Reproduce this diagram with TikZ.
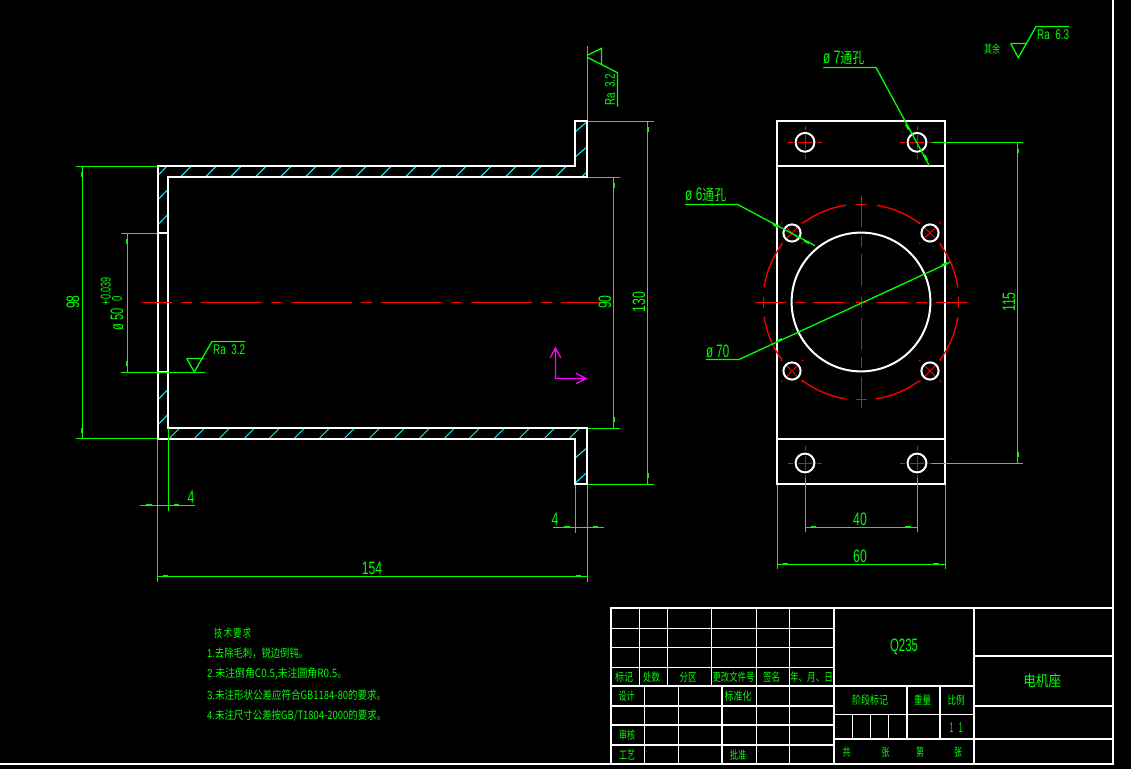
\documentclass[tikz,border=0pt]{standalone}
\usepackage{fontspec}
\usepackage{graphicx}
\setmainfont{Liberation Sans}
\newfontfamily\cadcjk{Noto Sans CJK SC}
\newcommand{\nar}[1]{\scalebox{.68}[1]{#1}}
\newcommand{\fitw}[2]{\resizebox{#1pt}{\height}{#2}}
\newcommand{\cjk}[1]{{\cadcjk #1}}
\definecolor{cadgreen}{RGB}{0,255,0}
\definecolor{cadred}{RGB}{255,0,0}
\definecolor{cadcyan}{RGB}{0,255,255}
\definecolor{cadmag}{RGB}{255,0,255}
\tikzset{
  x=1pt,y=-1pt,
  outl/.style={draw=white,line width=2pt,line cap=rect,line join=miter},
  thin white/.style={draw=white,line width=1.2pt},
  dimline/.style={draw=cadgreen,line width=1.3pt},
  tick/.style={draw=cadgreen,line width=2pt},
  hatchl/.style={draw=cadcyan,line width=1pt},
  ctr/.style={draw=cadred,line width=1.3pt},
  ctrfine/.style={draw=cadred,line width=.9pt},
  lab/.style={text=cadgreen,inner sep=0pt,font=\fontsize{18}{18}\selectfont},
  sm/.style={text=cadgreen,inner sep=0pt,font=\fontsize{14}{14}\selectfont},
  cn/.style={text=cadgreen,inner sep=0pt,font=\fontsize{11.5}{12}\selectfont},
  arrowbit/.style={draw=cadgreen,line width=2.4pt},
}
\begin{document}
\begin{tikzpicture}
\useasboundingbox[fill=black] (0,0) rectangle (1131,769);
% sheet frame
\draw[outl] (0,764) -- (1113,764) -- (1113,0);

% ---------- section view: hatching
\foreach \b in {180.3,205.3,...,560} \draw[hatchl] (\b,177) -- (\b+11,166);
\draw[hatchl] (157.5,176) -- (167,166);
\draw[hatchl] (581.5,177) -- (587,172);
\foreach \b in {168.7,193.7,...,570} \draw[hatchl] (\b,439) -- (\b+11,428);
\draw[hatchl] (157.5,200.3) -- (168,189.3) (157.5,225.3) -- (168,214.3);
\draw[hatchl] (157.5,400.3) -- (168,389.3) (157.5,425.3) -- (168,414.3) (157.5,375) -- (160,372);
\draw[hatchl] (575,132) -- (587,121.7) (575,157.3) -- (587,146.7);
\draw[hatchl] (575,458.3) -- (587,447.7) (575,483.3) -- (587,472.3);
% section view: outlines
\draw[outl] (157.7,166) -- (575,166) -- (575,121) -- (587,121) -- (587,177) -- (168.3,177) -- (168.3,428) -- (587,428) -- (587,484) -- (575,484) -- (575,439) -- (157.7,439) -- cycle;
\draw[outl,line width=1.6pt] (157.7,233) -- (168.3,233) (157.7,372) -- (168.3,372);
% centre line
\draw[ctr,dash pattern=on 61pt off 9pt on 11pt off 9pt,dash phase=31pt] (142,302.5) -- (603,302.5);

% dim 98
\draw[dimline] (76,166.5) -- (157,166.5) (76,438.5) -- (157,438.5) (82.5,166) -- (82.5,439);
\draw[tick] (81.6,172) -- (81.6,177) (81.6,428) -- (81.6,433);
\node[lab,rotate=90] (d98) at (73,302) {\nar{98}};
% dim phi 50
\draw[dimline] (121,233.5) -- (157,233.5) (121,372.5) -- (205,372.5) (127.5,233) -- (127.5,372);
\draw[tick] (126.6,239) -- (126.6,244) (126.6,361) -- (126.6,366);
\node[lab,rotate=90] (d50) at (117,319) {\fitw{22}{ø 50}};
\node[sm,rotate=90] (d50a) at (105.7,291) {\fitw{28}{+0.039}};
\node[sm,rotate=90] (d50b) at (117,299) {\nar{0}};
% roughness Ra 3.2 inner
\coordinate (ra1) at (194.3,372);
\draw[dimline] (186.7,358.5) -- (203.3,358.5) (186.7,358.5) -- (ra1) -- (212,341.5) -- (245,341.5);
\node[sm,anchor=west] (ra1t) at (213,350) {\fitw{32}{Ra\ \ 3.2}};
% dim 4 left
\draw[dimline] (157.5,440) -- (157.5,581.5) (168.5,428) -- (168.5,510.7) (140,505.5) -- (195,505.5);
\draw[tick] (146,504.6) -- (152,504.6) (174,504.6) -- (179,504.6);
\node[lab] (d4a) at (191,497) {\nar{4}};
% dim 154
\draw[dimline] (157.7,576.5) -- (587,576.5) (587.5,485) -- (587.5,581.5);
\draw[tick] (163,575.6) -- (168,575.6) (576,575.6) -- (581,575.6);
\node[lab] (d154) at (372,568) {\nar{154}};
% dim 90
\draw[dimline] (588,177.5) -- (620,177.5) (588,428.5) -- (620,428.5) (613.5,177) -- (613.5,428);
\draw[tick] (614,183) -- (614,188) (614,417) -- (614,422);
\node[lab,rotate=90] (d90) at (605,302) {\nar{90}};
% dim 130
\draw[dimline] (588,121.5) -- (654,121.5) (588,484.5) -- (654,484.5) (647.5,121) -- (647.5,484);
\draw[tick] (648,127) -- (648,132) (648,473) -- (648,478);
\node[lab,rotate=90] (d130) at (639,302) {\nar{130}};
% dim 4 right
\draw[dimline] (575.5,485) -- (575.5,532.7) (553,527.5) -- (604,527.5);
\draw[tick] (564,526.6) -- (570,526.6) (593,526.6) -- (598,526.6);
\node[lab] (d4b) at (555,519) {\nar{4}};
% roughness Ra 3.2 top
\draw[dimline] (587.5,46) -- (587.5,120);
\draw[dimline] (587.3,55.3) -- (601.5,48.3) -- (601.5,64.3) (587.3,57.3) -- (617.5,72.7) -- (617.5,106.7);
\node[sm,rotate=90,anchor=west] (ra2t) at (610,106) {\fitw{32}{Ra\ \ 3.2}};

% UCS icon
\draw[draw=cadmag,line width=1.3pt] (550.3,357.7) -- (555.5,348) -- (560.7,357.7) (555.5,348) -- (555.5,378.5) -- (586,378.5) (576,373.3) -- (586,378.5) -- (576,383.7);

% ---------- end view
\draw[outl] (777,121) rectangle (945,484);
\draw[outl] (777,165.7) -- (945,165.7) (777,438.7) -- (945,438.7);
% bolt circle arcs
\foreach \s in {8.6,53,98.8,143.6,188.6,233,278.8,323.6} {
  \draw[ctr] (861,302) ++(\s:98 and -98) arc[start angle=\s,delta angle=27.6,x radius=98,y radius=-98];
}
% centre axes
\foreach \a/\b in {-106/-75,-66/-55,-48/-16,-5.5/5.5,16/48,55/66,75/106} {
  \draw[ctr] (861.5,302+\a) -- (861.5,302+\b);
  \draw[ctr] (861+\a,302.5) -- (861+\b,302.5);
}
\draw[ctr] (855.5,204.5) -- (866.5,204.5) (855.5,399.5) -- (866.5,399.5) (763.5,296.5) -- (763.5,307.5) (958.5,296.5) -- (958.5,307.5);
% big circle
\draw[outl,line cap=butt] (861,302) circle[radius=69.4];
% four holes with + marks
\foreach \hx/\hy/\nm in {805/142.3/a,917/142.3/b,805/463/c,917/463/d} {
  \draw[ctrfine] (\hx-7,\hy) -- (\hx+7,\hy) (\hx,\hy-7) -- (\hx,\hy+7)
    (\hx-16.7,\hy) -- (\hx-12.3,\hy) (\hx+12.3,\hy) -- (\hx+16.7,\hy)
    (\hx,\hy-16.7) -- (\hx,\hy-12.3) (\hx,\hy+12.3) -- (\hx,\hy+16.7);
  \draw[outl,line cap=butt] (\hx,\hy) circle[radius=9.4];
}
% four holes with x marks
\foreach \hx/\hy in {792/233,930/233,792/371,930/371} {
  \draw[ctrfine] (\hx-6,\hy-6) -- (\hx+6,\hy+6) (\hx-6,\hy+6) -- (\hx+6,\hy-6)
    (\hx-11,\hy-11) -- (\hx-9.6,\hy-9.6) (\hx+9.6,\hy+9.6) -- (\hx+11,\hy+11)
    (\hx-11,\hy+11) -- (\hx-9.6,\hy+9.6) (\hx+9.6,\hy-9.6) -- (\hx+11,\hy-11);
  \draw[outl,line cap=butt] (\hx,\hy) circle[radius=8.6];
}
% leader phi 7
\draw[dimline] (823.3,67.5) -- (876,67.5) -- (929.3,165.7);
\draw[arrowbit] (906,124.5) -- (909,129.5) (924,155) -- (927,160.5);
\node[lab,anchor=west] (l7) at (823,58) {\fitw{41}{\nar{ø 7}\cjk{\fontsize{15}{15}\selectfont\scalebox{.82}[1]{通孔}}}};
% leader phi 6
\draw[dimline] (685,204.5) -- (737.7,204.5) -- (815,245.7);
\draw[arrowbit] (773,224) -- (778,226.7) (804,240.5) -- (809,243);
\node[lab,anchor=west] (l6) at (685,195) {\fitw{41}{\nar{ø 6}\cjk{\fontsize{15}{15}\selectfont\scalebox{.82}[1]{通孔}}}};
% leader phi 70
\draw[dimline] (706,359.5) -- (739,359.5) -- (950,262.3);
\draw[arrowbit] (777,341.5) -- (782,339) (942,265.5) -- (947,263);
\node[lab,anchor=west] (l70) at (706,351) {\fitw{23}{ø 70}};
% dim 115
\draw[dimline] (931.7,142.5) -- (1023,142.5) (931.7,463.5) -- (1023,463.5) (1017.5,142.3) -- (1017.5,463);
\draw[tick] (1018,149) -- (1018,153) (1018,452) -- (1018,457);
\node[lab,rotate=90] (d115) at (1009,302) {\nar{115}};
% dim 40
\draw[dimline] (805.5,478) -- (805.5,532.3) (917.5,478) -- (917.5,532.3) (805,527.5) -- (917,527.5);
\draw[tick] (811,526.6) -- (816,526.6) (905,526.6) -- (911,526.6);
\node[lab] (d40) at (860,519) {\nar{40}};
% dim 60
\draw[dimline] (777.5,485) -- (777.5,569.3) (945.5,485) -- (945.5,569.3) (777,564.5) -- (945,564.5);
\draw[tick] (783,563.6) -- (788,563.6) (933,563.6) -- (939,563.6);
\node[lab] (d60) at (860,556) {\nar{60}};
% roughness remaining
\node[cn] (qy) at (992,49) {\cjk{\fitw{16}{其余}}};
\draw[dimline] (1010.7,43.5) -- (1026.7,43.5) (1010.7,43.5) -- (1018.3,57.7) -- (1036,26.5) -- (1069,26.5);
\node[sm,anchor=west] (ra3t) at (1037,35) {\fitw{32}{Ra\ \ 6.3}};

% ---------- technical requirements
\node[cn,anchor=west] (t0) at (214,633) {\cjk{\fitw{37}{技\,术\,要\,求}}};
\node[cn,anchor=west] (t1) at (207,653) {\fitw{101}{1.\cjk{去除毛刺，锐边倒钝。}}};
\node[cn,anchor=west] (t2) at (207,674) {\fitw{140}{2.\cjk{未注倒角C0.5,未注圆角R0.5。}}};
\node[cn,anchor=west] (t3) at (207,695) {\fitw{179}{3.\cjk{未注形状公差应符合GB1184-80的要求。}}};
\node[cn,anchor=west] (t4) at (207,716) {\fitw{179}{4.\cjk{未注尺寸公差按GB/T1804-2000的要求。}}};

% ---------- title block
\draw[outl] (611,764) -- (611,608) -- (1113,608);
\draw[outl] (834,608) -- (834,764) (974,608) -- (974,764);
\foreach \y in {628.5,647.5,667.5} \draw[thin white] (611,\y) -- (834,\y);
\foreach \x in {639.5,667.5,711.5} \draw[thin white] (\x,608) -- (\x,686);
\foreach \x in {756.5,789.5} \draw[thin white] (\x,608) -- (\x,764);
\draw[outl] (611,686) -- (974,686);
\foreach \y in {705.7,725,745} \draw[outl,line width=1.6pt] (611,\y) -- (834,\y);
\foreach \x in {644.5,678.5} \draw[thin white] (\x,686) -- (\x,764);
\draw[outl,line width=1.6pt] (721.7,686) -- (721.7,764);
\draw[thin white] (834,714.5) -- (974,714.5);
\draw[outl] (834,739) -- (1113,739) (974,656) -- (1113,656) (974,706) -- (1113,706);
\draw[outl] (907,686) -- (907,739) (940,686) -- (940,739);
\foreach \x in {852.5,870.5,888.5} \draw[thin white] (\x,714.5) -- (\x,739);
% title block text
\foreach \x/\y/\t/\w/\nm in {624/677/标记/18/a1,651.7/677/处数/17/a2,688/677/分区/17/a3,733.5/677/更改文件号/42/a4,771.7/677/签名/17/a5,811.5/677/年、月、日/43/a6,
  626.7/696/设计/16/b1,738/696/标准化/27/b2,627/735/审核/16/b3,627/755/工艺/16/b4,738/755/批准/16/b5,
  870/700/阶段标记/36/c1,922.7/700/重量/17/c2,956/700/比例/17/c3,
  846.7/752/共/8/e1,885.7/752/张/8/e2,920/752/第/8/e3,958/752/张/8/e4} {
  \node[cn] (tb\nm) at (\x,\y) {\cjk{\fitw{\w}{\t}}};
}
\node[lab] (q235) at (904,647) {\fitw{28}{Q235}};
\node[text=cadgreen,inner sep=0pt,font=\fontsize{15}{15}\selectfont] (ttl) at (1042.3,681) {\cjk{\fitw{38}{电机座}}};
\node[sm] (scl) at (956,728) {\fitw{13}{1\ \ \ 1}};
\end{tikzpicture}
\end{document}
